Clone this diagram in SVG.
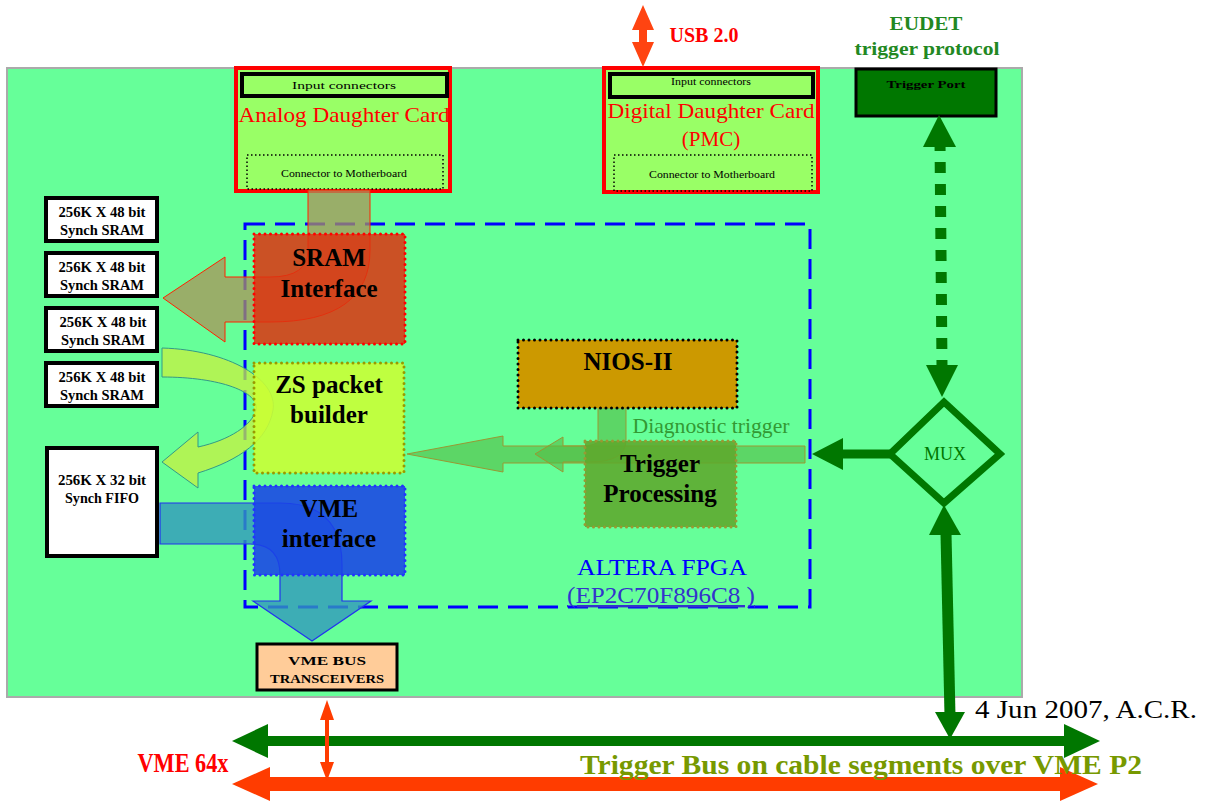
<svg xmlns="http://www.w3.org/2000/svg" width="1210" height="801" viewBox="0 0 1210 801">
<style>
text{font-family:"Liberation Serif","Times New Roman",serif;text-anchor:middle}
.b{font-weight:bold}
.card{fill:#99FF66;stroke:#FF0000;stroke-width:4}
.inbox{fill:#99FF66;stroke:#000;stroke-width:4}
.conbox{fill:none;stroke:#000;stroke-width:1.5;stroke-dasharray:1.5 2.5}
.mem{fill:#fff;stroke:#000;stroke-width:4}
.memt{font-size:14px;font-weight:bold}
.big{font-size:25px;font-weight:bold}
.dot{stroke-width:3;stroke-linecap:round;stroke-dasharray:0 5.5}
.tiny{font-size:10px}
</style>
<rect width="1210" height="801" fill="#fff"/>
<g id="board"><rect x="7" y="68" width="1015" height="629" fill="#66FF99" stroke="#aaaaaa" stroke-width="2"/></g>

<g id="analog-card">
<rect class="card" x="236" y="68" width="214" height="123"/>
<rect class="inbox" x="242" y="74" width="205" height="22"/>
<text class="tiny" x="344" y="89" textLength="104" lengthAdjust="spacingAndGlyphs">Input connectors</text>
<text x="344" y="122" font-size="21" fill="#FF0000" textLength="211" lengthAdjust="spacingAndGlyphs">Analog Daughter Card</text>
<rect class="conbox" x="247" y="155" width="196" height="34"/>
<text class="tiny" x="344" y="177" textLength="126" lengthAdjust="spacingAndGlyphs">Connector to Motherboard</text>
</g>

<g id="digital-card">
<rect class="card" x="604" y="68" width="214" height="124"/>
<rect class="inbox" x="610" y="74" width="203" height="23"/>
<text class="tiny" x="711" y="85" textLength="80" lengthAdjust="spacingAndGlyphs">Input connectors</text>
<text x="711" y="118" font-size="21" fill="#FF0000" textLength="207" lengthAdjust="spacingAndGlyphs">Digital Daughter Card</text>
<text x="711" y="146" font-size="21" fill="#FF0000">(PMC)</text>
<rect class="conbox" x="614" y="155" width="198" height="36"/>
<text class="tiny" x="712" y="178" textLength="126" lengthAdjust="spacingAndGlyphs">Connector to Motherboard</text>
</g>

<g id="usb-label"><text class="b" x="704" y="42" font-size="20" fill="#FF0000">USB 2.0</text></g>

<g id="eudet-label">
<text class="b" x="926" y="30" font-size="19" fill="#228822" textLength="73" lengthAdjust="spacingAndGlyphs">EUDET</text>
<text class="b" x="927" y="55" font-size="19" fill="#228822" textLength="145" lengthAdjust="spacingAndGlyphs">trigger protocol</text>
</g>

<g id="trigger-port">
<rect x="856" y="69" width="140" height="47" fill="#007700" stroke="#000" stroke-width="3"/>
<text class="b" x="926" y="88" font-size="11" textLength="79" lengthAdjust="spacingAndGlyphs">Trigger Port</text>
</g>

<g id="fpga">
<rect x="245" y="224" width="565" height="383" fill="none" stroke="#0000FF" stroke-width="3" stroke-dasharray="20 10"/>
<text x="662" y="575" font-size="24" fill="#0000FF" textLength="170" lengthAdjust="spacingAndGlyphs">ALTERA FPGA</text>
<text x="661" y="603" font-size="24" fill="#3333CC" text-decoration="underline" textLength="188" lengthAdjust="spacingAndGlyphs">(EP2C70F896C8 )</text>
</g>

<g id="connectors">
<path d="M308,190 L308,250 Q308,277 270,277 L225,277 L225,257 L163,298 L225,342 L225,322 L270,322 Q370,322 370,250 L370,190 Z" fill="#AB935A" fill-opacity="0.75" stroke="#FF2200" stroke-width="1"/>
<path d="M162,348 C230,350 278,380 273,410 C268,440 240,460 198,473 L198,488 L162,462 L198,432 L198,447 C230,440 252,425 256,410 C260,392 220,377 162,377 Z" fill="#C8F040" fill-opacity="0.75" stroke="#339988" stroke-width="1"/>
<path d="M160,503 L280,503 Q342,503 342,565 L342,601 L371,601 L312,641 L253,601 L280,601 L280,575 Q280,544 250,544 L160,544 Z" fill="#3399BB" fill-opacity="0.8" stroke="#2233EE" stroke-width="1.2"/>
<path d="M805,446 L503,446 L503,436 L407,454 L503,472 L503,463 L805,463 Z" fill="#55BB44" fill-opacity="0.6" stroke="#999933" stroke-width="1"/>
<path d="M598,408 L598,440 Q598,446 580,446 L563,446 L563,437 L535,454 L563,472 L563,462 L590,462 Q626,462 626,440 L626,408 Z" fill="#55BB44" fill-opacity="0.6" stroke="#999933" stroke-width="1"/>
<polygon points="643,5 654,30 647,30 647,42 654,42 643,67 632,42 639,42 639,30 632,30" fill="#FF4411"/>
<line x1="940" y1="140" x2="942" y2="366" stroke="#007700" stroke-width="11" stroke-dasharray="11 11"/>
<polygon points="939,115 956,147 923,147" fill="#007700"/>
<polygon points="942,397 926,365 958,365" fill="#007700"/>
<line x1="890" y1="454" x2="838" y2="454" stroke="#007700" stroke-width="9"/>
<polygon points="812,454 843,438 843,470" fill="#007700"/>
<polygon points="944,505 961,535 929,535" fill="#007700"/>
<line x1="946" y1="533" x2="950" y2="716" stroke="#007700" stroke-width="11"/>
<polygon points="950,739 965,712 935,712" fill="#007700"/>
<line x1="262" y1="741" x2="1070" y2="741" stroke="#007700" stroke-width="10"/>
<polygon points="232,741 268,724 268,758" fill="#007700"/>
<polygon points="1100,741 1064,724 1064,758" fill="#007700"/>
<line x1="262" y1="784" x2="1068" y2="784" stroke="#FF3C00" stroke-width="14"/>
<polygon points="232,784 270,767 270,801" fill="#FF3C00"/>
<polygon points="1098,784 1060,767 1060,801" fill="#FF3C00"/>
<line x1="327" y1="716" x2="327" y2="766" stroke="#FF3C00" stroke-width="4"/>
<polygon points="327,700 334,720 320,720" fill="#FF3C00"/>
<polygon points="327,781 334,762 320,762" fill="#FF3C00"/>
</g>

<g id="sram1"><rect class="mem" x="46" y="198" width="111" height="43"/><text class="memt" x="102" y="217" textLength="87" lengthAdjust="spacingAndGlyphs">256K X 48 bit</text><text class="memt" x="102" y="235" textLength="84" lengthAdjust="spacingAndGlyphs">Synch SRAM</text></g>
<g id="sram2"><rect class="mem" x="46" y="253" width="111" height="43"/><text class="memt" x="102" y="272" textLength="87" lengthAdjust="spacingAndGlyphs">256K X 48 bit</text><text class="memt" x="102" y="290" textLength="84" lengthAdjust="spacingAndGlyphs">Synch SRAM</text></g>
<g id="sram3"><rect class="mem" x="46" y="308" width="111" height="43"/><text class="memt" x="103" y="327" textLength="87" lengthAdjust="spacingAndGlyphs">256K X 48 bit</text><text class="memt" x="103" y="345" textLength="84" lengthAdjust="spacingAndGlyphs">Synch SRAM</text></g>
<g id="sram4"><rect class="mem" x="46" y="363" width="111" height="43"/><text class="memt" x="102" y="382" textLength="87" lengthAdjust="spacingAndGlyphs">256K X 48 bit</text><text class="memt" x="102" y="400" textLength="84" lengthAdjust="spacingAndGlyphs">Synch SRAM</text></g>
<g id="fifo"><rect class="mem" x="47" y="448" width="110" height="108"/><text class="memt" x="102" y="485" textLength="88" lengthAdjust="spacingAndGlyphs">256K X 32 bit</text><text class="memt" x="102" y="503" textLength="74" lengthAdjust="spacingAndGlyphs">Synch FIFO</text></g>

<g id="sram-interface">
<rect class="dot" x="254" y="234" width="151" height="110" fill="#DD3311" fill-opacity="0.85" stroke="#FF0000"/>
<text class="big" x="329" y="266">SRAM</text>
<text class="big" x="329" y="297">Interface</text>
</g>
<g id="zs-builder">
<rect class="dot" x="254" y="363" width="150" height="110" fill="#CCFF33" fill-opacity="0.88" stroke="#999900"/>
<text class="big" x="329" y="393">ZS packet</text>
<text class="big" x="329" y="423">builder</text>
</g>
<g id="vme-interface">
<rect class="dot" x="254" y="486" width="151" height="89" fill="#1A44E6" fill-opacity="0.88" stroke="#2233FF"/>
<text class="big" x="329" y="517">VME</text>
<text class="big" x="329" y="547">interface</text>
</g>
<g id="nios">
<rect class="dot" x="518" y="340" width="219" height="68" fill="#CC9900" stroke="#000"/>
<text class="big" x="628" y="370">NIOS-II</text>
</g>
<g id="trigger-processing">
<rect class="dot" x="585" y="441" width="151" height="86" fill="#5FA82C" fill-opacity="0.88" stroke="#999933"/>
<text class="big" x="660" y="472">Trigger</text>
<text class="big" x="660" y="502">Processing</text>
</g>
<g id="diag-label"><text x="711" y="433" font-size="21" fill="#339933" textLength="157" lengthAdjust="spacingAndGlyphs">Diagnostic trigger</text></g>

<g id="mux">
<polygon points="944,402 1000,454 944,503 890,454" fill="none" stroke="#007700" stroke-width="7" stroke-linejoin="miter"/>
<text x="945" y="460" font-size="18" fill="#007700">MUX</text>
</g>

<g id="vme-transceivers">
<rect x="257" y="644" width="140" height="46" fill="#FFCC99" stroke="#000" stroke-width="3"/>
<text class="b" x="327" y="665" font-size="13" textLength="78" lengthAdjust="spacingAndGlyphs">VME BUS</text>
<text class="b" x="327" y="683" font-size="13" textLength="114" lengthAdjust="spacingAndGlyphs">TRANSCEIVERS</text>
</g>

<g id="labels">
<text x="1086" y="718" font-size="26" textLength="222" lengthAdjust="spacingAndGlyphs">4 Jun 2007, A.C.R.</text>
<text class="b" x="183" y="772" font-size="27" fill="#FF0000" textLength="91" lengthAdjust="spacingAndGlyphs">VME 64x</text>
<text class="b" x="861" y="774" font-size="27" fill="#779900" textLength="562" lengthAdjust="spacingAndGlyphs">Trigger Bus on cable segments over VME P2</text>
</g>
</svg>
